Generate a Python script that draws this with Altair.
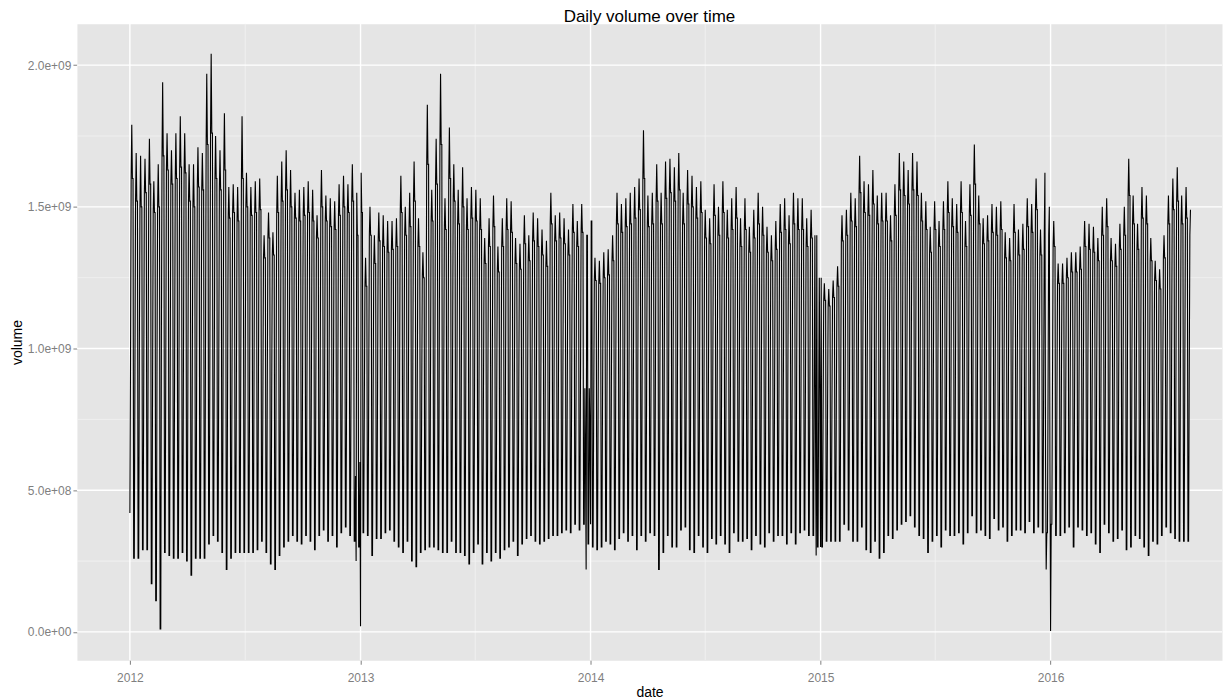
import altair as alt
import pandas as pd
from datetime import date, timedelta

# ---------------- data (units of 1e7 shares) ----------------
# Each week starts on a Sunday (first week starts 2012-01-01).
# week_low  : Sunday (weekend) low of the week
# week_mid  : Monday level
# week_plat : typical mid-week level (Tue, Thu, Fri)
# week_peak : highest weekday (Wed)
low_2012 = [42,26,26,29,29,17,11,1,28,27,26,26,28,25,20,26,26,26,31,34,32,28,22,26,28,28,28,28,28,29,32,28,24,22,27,30,32,34,32,31,34,32,29,34,36,32,34,30,35,37,34,32]
low_2013 = [30,35,34,27,33,33,35,36,32,30,28,32,25,23,28,29,30,30,29,28,28,32,28,28,27,24,28,31,24,28,25,28,26,29,30,32,27,31,33,34,32,31,32,33,34,34,35,36,35,38,36,38]
low_2014 = [31,30,29,30,32,31,29,33,35,32,34,29,34,32,35,34,22,28,34,30,30,36,37,29,28,34,30,28,33,31,34,31,28,35,32,32,33,29,34,31,30,35,32,34,34,31,35,31,35,36,34,34]
low_2015 = [30,30,32,32,32,32,38,36,32,32,37,29,28,32,26,28,34,33,36,38,39,41,37,34,33,28,32,34,30,36,34,34,35,31,35,41,35,36,34,33,40,36,37,32,34,36,36,35,39,35,37,35]
low_2016 = [35,38,34,34,35,37,30,37,36,34,35,31,28,38,35,32,33,36,29,30,34,33,30,27,32,31,34,37,35,33,32,32,32]

mid_2012 = [95,92,98,90,100,88,93,104,97,91,96,99,94,88,90,95,93,102,105,96,92,99,86,89,87,98,90,88,91,89,80,85,82,90,94,97,92,88,87,90,91,88,84,92,87,86,85,90,93,89,92,85]
mid_2013 = [88,78,86,82,85,85,84,84,85,92,87,89,95,85,79,100,90,97,104,88,98,93,89,93,88,90,89,88,81,84,88,79,84,88,87,81,80,85,81,85,84,82,80,89,85,85,84,82,87,84,87,86]
mid_2014 = [86,80,79,81,82,84,90,88,89,90,91,93,99,89,90,95,90,95,96,94,97,90,94,93,91,92,87,85,91,88,92,87,89,91,86,89,84,87,90,88,84,82,85,88,89,86,90,89,89,86,87,88]
mid_2015 = [82,76,75,77,80,88,89,92,91,98,94,93,96,91,92,92,88,93,99,97,96,99,97,92,90,86,90,87,90,94,91,90,94,87,93,100,91,87,88,90,89,90,85,84,90,86,87,91,90,94,86,88]
mid_2016 = [85,88,80,80,81,82,82,83,88,87,87,85,90,92,85,84,87,90,98,92,87,94,92,85,81,79,85,92,95,97,92,94,90]

plat_2012 = [160,152,150,155,158,148,150,168,163,158,160,164,162,152,150,157,156,172,176,160,156,163,146,148,145,160,150,147,148,149,132,139,133,148,152,156,150,146,145,147,148,145,139,150,145,143,142,147,150,148,152,140]
plat_2013 = [148,122,140,130,138,136,134,135,136,148,140,143,152,136,125,165,145,158,172,142,160,152,144,150,142,146,145,142,130,136,143,127,136,142,141,130,128,137,131,138,136,133,129,144,138,139,137,133,141,136,141,140]
plat_2014 = [145,124,123,125,126,131,144,141,143,144,146,149,160,143,144,152,144,153,155,152,156,144,151,150,146,148,139,137,147,140,148,139,142,146,136,142,134,139,144,140,134,131,135,141,142,137,144,142,142,136,139,140]
plat_2015 = [125,117,115,118,122,138,140,145,143,155,148,147,151,144,145,145,138,147,156,154,151,156,154,145,142,134,142,136,142,148,143,141,148,136,147,158,144,137,138,141,140,142,132,131,141,133,135,143,141,149,133,140]
plat_2016 = [140,136,123,123,125,127,127,128,136,135,134,131,140,143,131,129,135,140,154,144,135,146,144,131,124,121,132,144,149,152,144,146,140]

peak_2012 = [179,169,168,167,174,159,165,194,176,170,176,182,176,165,165,171,169,197,204,175,170,183,157,158,157,182,162,157,159,160,140,148,141,161,166,170,163,155,156,157,159,156,147,163,154,153,152,158,161,158,165,155]
peak_2013 = [162,132,150,140,148,147,145,145,146,161,150,155,166,146,134,186,156,174,197,153,178,165,156,164,153,157,156,153,139,146,154,136,146,153,152,139,137,147,140,148,146,142,138,155,147,148,146,142,151,145,151,158]
peak_2014 = [161,132,131,134,135,140,155,151,153,155,157,160,177,154,155,165,155,166,167,164,169,155,163,161,157,159,149,146,158,150,159,149,153,157,146,153,143,149,155,150,143,140,145,151,153,147,155,153,153,146,149,161]
peak_2015 = [133,123,121,124,129,147,149,155,153,168,159,158,163,154,155,155,147,158,169,166,163,169,166,155,152,143,152,145,152,159,153,151,159,145,158,172,154,146,147,151,150,152,141,139,151,142,144,153,151,160,142,162]
peak_2016 = [150,145,130,130,132,134,134,136,145,144,143,139,150,153,139,137,144,150,167,154,144,157,154,139,131,128,140,154,160,164,154,157,149]

holiday_dates = ["2012-12-24", "2012-12-25", "2012-12-31", "2013-01-01",
                 "2013-12-24", "2013-12-25", "2013-12-31", "2014-01-01",
                 "2014-12-24", "2014-12-25", "2014-12-31", "2015-01-01",
                 "2015-12-24", "2015-12-25", "2015-12-31", "2016-01-01"]
holiday_values = [55, 25, 60, 2,
                  60, 22, 70, 38,
                  70, 27, 80, 30,
                  60, 22, 60, 0.3]

last_week_days = 4  # data ends on the Wednesday of the last week

# tick labels / grid positions
x_major = ["2012-01-01", "2013-01-01", "2014-01-01", "2015-01-01", "2016-01-01"]
x_minor = ["2012-07-02", "2013-07-02", "2014-07-02", "2015-07-02", "2016-07-02"]
y_major = [0, 500000000, 1000000000, 1500000000, 2000000000]
y_labels = ["0.0e+00", "5.0e+08", "1.0e+09", "1.5e+09", "2.0e+09"]
y_minor = [250000000, 750000000, 1250000000, 1750000000]

# ---------------- build the daily table ----------------
week_low = low_2012 + low_2013 + low_2014 + low_2015 + low_2016
week_mid = mid_2012 + mid_2013 + mid_2014 + mid_2015 + mid_2016
week_plat = plat_2012 + plat_2013 + plat_2014 + plat_2015 + plat_2016
week_peak = peak_2012 + peak_2013 + peak_2014 + peak_2015 + peak_2016
assert len(week_low) == len(week_mid) == len(week_plat) == len(week_peak), (
    len(week_low), len(week_mid), len(week_plat), len(week_peak))

hol = dict(zip(holiday_dates, holiday_values))
d0 = date(2012, 1, 1)
n = len(week_peak)
rows = []
for k in range(n):
    vals = [week_low[k], week_mid[k], week_plat[k], week_peak[k], week_plat[k], week_plat[k]]
    if k + 1 < n:
        vals.append(week_low[k + 1])
    else:
        vals = vals[:last_week_days]
    for i, v in enumerate(vals):
        ds = (d0 + timedelta(days=7 * k + i)).isoformat()
        v = hol.get(ds, v)
        rows.append({"date": ds, "volume": v * 1e7})
df = pd.DataFrame(rows)

FONT = "Liberation Sans"
x_domain = ["2011-10-09", "2016-09-29"]
y_domain = [-100000000, 2146000000]
xs = alt.Scale(type="utc", domain=x_domain, nice=False)
ys = alt.Scale(domain=y_domain, nice=False, zero=False)

label_expr = " : ".join(
    f"datum.value == {v} ? '{t}'" for v, t in zip(y_major, y_labels)) + " : ''"
x_tick_values = [alt.DateTime(year=int(s[:4]), month=1, date=1, utc=True) for s in x_major]

x_axis = alt.Axis(
    title="date", values=x_tick_values, format="%Y", grid=False, domain=False,
    tickSize=4, tickColor="#7F7F7F", labelColor="#7F7F7F", labelFontSize=12,
    labelFont=FONT, labelPadding=8, titleFont=FONT, titleFontSize=14,
    titleFontWeight="normal", titleColor="black", titlePadding=2)
y_axis = alt.Axis(
    title="volume", values=y_major, labelExpr=label_expr, grid=False, domain=False,
    tickSize=4, tickColor="#7F7F7F", labelColor="#7F7F7F", labelFontSize=12,
    labelFont=FONT, labelPadding=2, titleFont=FONT, titleFontSize=14,
    titleFontWeight="normal", titleColor="black", titlePadding=3)

X = alt.X("date:T", scale=xs, axis=x_axis)
Y = alt.Y("volume:Q", scale=ys, axis=y_axis)

minor_x = alt.Chart(pd.DataFrame({"date": x_minor})).mark_rule(
    color="#F2F2F2", strokeWidth=0.8).encode(x=X)
minor_y = alt.Chart(pd.DataFrame({"volume": y_minor})).mark_rule(
    color="#F2F2F2", strokeWidth=0.8).encode(y=Y)
major_x = alt.Chart(pd.DataFrame({"date": x_major})).mark_rule(
    color="#FFFFFF", strokeWidth=1.4).encode(x=X)
major_y = alt.Chart(pd.DataFrame({"volume": y_major})).mark_rule(
    color="#FFFFFF", strokeWidth=1.4).encode(y=Y)

line = alt.Chart(df).mark_line(color="black", strokeWidth=1.1).encode(x=X, y=Y)

chart = alt.layer(minor_x, minor_y, major_x, major_y, line).properties(
    width=1146, height=637,
    title=alt.TitleParams("Daily volume over time", fontSize=17, font=FONT,
                          fontWeight="normal", color="black", anchor="middle", offset=-2.5),
    padding={"left": 2, "top": -1.5, "right": 0, "bottom": 0},
).configure(background="white").configure_view(fill="#E5E5E5", stroke="transparent")

chart.save("out.html", embed_options={"renderer": "svg", "actions": False})
